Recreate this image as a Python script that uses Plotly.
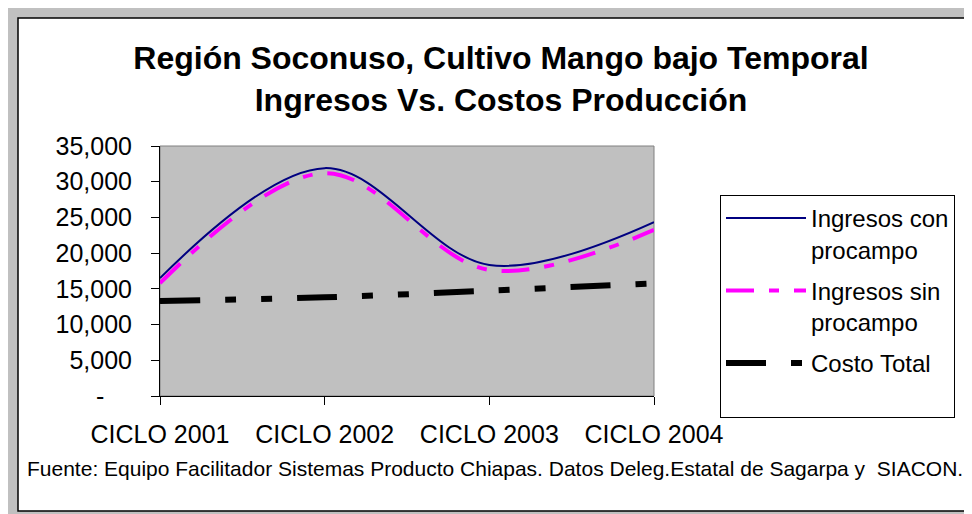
import plotly.graph_objects as go

categories = ["CICLO 2001", "CICLO 2002", "CICLO 2003", "CICLO 2004"]
ingresos_con = [16500, 31900, 18350, 24350]
ingresos_sin = [15800, 31200, 17650, 23250]
costo_total = [13300, 13820, 14740, 15780]

ytick_vals = [0, 5000, 10000, 15000, 20000, 25000, 30000, 35000]
ytick_text = ["-" + "\u00a0" * 4, "5,000", "10,000", "15,000", "20,000", "25,000", "30,000", "35,000"]

OFF = 8  # page body margin
W, H = 964, 506
# plot area in page coordinates: x 160..654, y 146..396
L, T = 160 - OFF, 146 - OFF
R = W - (654 - OFF)
B = H - (396 - OFF)
PW, PH = W - L - R, H - T - B


def px(x):  # page x -> paper
    return (x - OFF - L) / PW


def py(y):  # page y -> paper
    return (H - B - (y - OFF)) / PH


FONT = "Liberation Sans, Arial, sans-serif"

fig = go.Figure()
fig.add_trace(go.Scatter(
    x=categories, y=ingresos_con, mode="lines", name="Ingresos con<br>procampo",
    legendgroup="a",
    line=dict(color="#000080", width=2, shape="spline", smoothing=1.0),
))
fig.add_trace(go.Scatter(
    x=categories, y=ingresos_sin, mode="lines", name="Ingresos sin<br>procampo",
    legendgroup="b",
    line=dict(color="#FF00FF", width=4, shape="spline", smoothing=1.0,
              dash="28px,15px,10px,15px"),
))
fig.add_trace(go.Scatter(
    x=categories, y=costo_total, mode="lines", name="Costo Total<br>\u00a0",
    legendgroup="c",
    line=dict(color="#000000", width=6, shape="spline", smoothing=1.0,
              dash="40px,25px,11px,25px,11px,25px"),
))

shapes = [
    dict(type="rect", xref="paper", yref="paper", layer="below",
         x0=px(8), x1=px(1000), y0=py(540), y1=py(8),
         fillcolor="#C0C0C0", line=dict(width=0)),
    dict(type="rect", xref="paper", yref="paper", layer="below",
         x0=px(18), x1=px(1010), y0=py(511), y1=py(18),
         fillcolor="#FFFFFF", line=dict(color="#000000", width=1.5)),
    dict(type="rect", xref="paper", yref="paper", layer="below",
         x0=0, x1=1, y0=0, y1=1,
         fillcolor="#C0C0C0", line=dict(color="#808080", width=1)),
]

fig.update_layout(
    width=W, height=H,
    margin=dict(l=L, r=R, t=T, b=B, pad=0),
    paper_bgcolor="#FFFFFF",
    plot_bgcolor="rgba(0,0,0,0)",
    font=dict(family=FONT, size=25, color="#000000"),
    title=dict(
        text="<b>Región Soconuso, Cultivo Mango bajo Temporal<br>Ingresos Vs. Costos Producción</b>",
        font=dict(family=FONT, size=32, color="#000000"),
        xref="paper", x=px(501), xanchor="center",
        yref="container", y=1 - (69 - OFF) / H, yanchor="middle",
    ),
    xaxis=dict(
        type="category", range=[0, 3], showgrid=False, zeroline=False,
        showline=True, linecolor="#000000", linewidth=1,
        ticks="outside", ticklen=8, tickcolor="#000000", tickwidth=1,
        tickfont=dict(family=FONT, size=25, color="#000000"),
        ticklabelstandoff=8,
    ),
    xaxis2=dict(
        type="category", range=[0, 3], overlaying="x", anchor="y",
        showgrid=False, zeroline=False, showline=False,
        ticks="inside", ticklen=8, tickcolor="#000000", tickwidth=1,
        showticklabels=False, tickvals=categories,
    ),
    yaxis=dict(
        range=[0, 35000], showgrid=False, zeroline=False,
        showline=True, linecolor="#000000", linewidth=1,
        ticks="outside", ticklen=8, tickcolor="#000000", tickwidth=1,
        tickmode="array", tickvals=ytick_vals, ticktext=ytick_text,
        tickfont=dict(family=FONT, size=25, color="#000000"),
        ticklabelstandoff=14,
    ),
    legend=dict(
        x=px(720), y=py(195), xanchor="left", yanchor="top",
        bgcolor="#FFFFFF", bordercolor="#000000", borderwidth=1,
        font=dict(family=FONT, size=24, color="#000000"),
        itemwidth=80, valign="top", tracegroupgap=7,
    ),
    shapes=shapes,
    annotations=[dict(
        text="Fuente: Equipo Facilitador Sistemas Producto Chiapas. Datos Deleg.Estatal de Sagarpa y  SIACON.",
        xref="paper", yref="paper", x=px(495), y=py(468),
        xanchor="center", yanchor="middle", showarrow=False,
        font=dict(family=FONT, size=21, color="#000000"),
    )],
    showlegend=True,
)

fig.write_html("out.html")
